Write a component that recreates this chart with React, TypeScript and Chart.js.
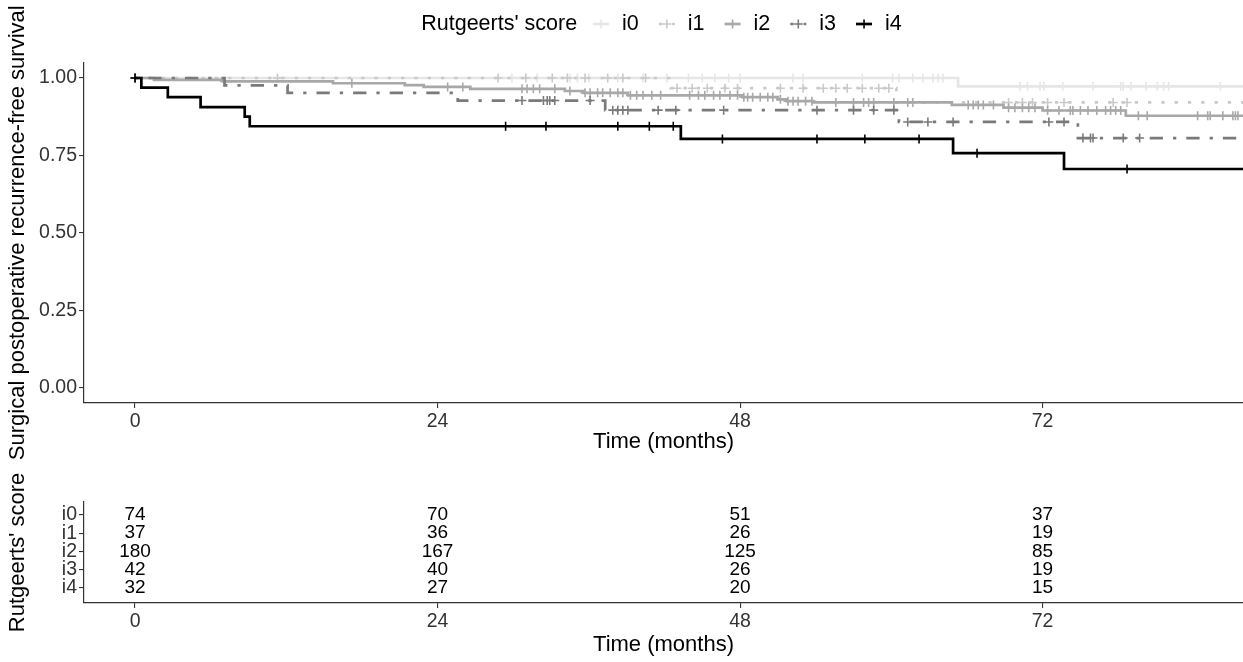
import React, { useEffect, useRef } from "react";
import { Chart, registerables } from "chart.js";
Chart.register(...registerables);

const FONT = "'Liberation Sans', Arial, Helvetica, sans-serif";

const groups = ["i0", "i1", "i2", "i3", "i4"];
const legendTitle = "Rutgeerts' score";
const xTitle = "Time (months)";
const yTitle = "Surgical postoperative recurrence-free survival";
const xTicks = [0, 24, 48, 72];
const yTicks = [0, 0.25, 0.5, 0.75, 1];

// Kaplan-Meier steps (event time in months, survival after event)
const i0EventTimes = [65.3];
const i0EventSurv = [0.973];
const i0Censor = [0, 29.9, 31.9, 34.5, 35.1, 36.0, 38.3, 40.3, 42.2, 43.9, 45.0, 46.0, 47.1, 48.0, 52.2, 53.0, 57.7, 60.1, 60.6, 61.7, 62.5, 63.3, 63.7, 64.1, 70.2, 70.8, 71.8, 72.1, 73.6, 76.0, 78.2, 78.4, 79.0, 80.2, 81.1, 81.6, 82.0, 86.1];

const i1EventTimes = [42.5, 60.4];
const i1EventSurv = [0.967, 0.921];
const i1Censor = [11.3, 28.8, 31.0, 33.1, 34.3, 35.7, 37.5, 38.7, 40.5, 43.0, 44.2, 45.4, 46.8, 47.8, 51.2, 53.0, 54.6, 55.6, 56.5, 57.7, 59.0, 59.8, 69.3, 70.4, 71.2, 72.4, 73.7, 77.6, 78.7];

const i2EventTimes = [1.5, 7.0, 15.7, 21.4, 22.9, 26.6, 34.1, 35.6, 39.1, 48.2, 51.0, 51.7, 53.8, 64.8, 68.9, 72.0, 78.6];
const i2EventSurv = [0.994, 0.989, 0.983, 0.977, 0.971, 0.965, 0.958, 0.952, 0.944, 0.938, 0.931, 0.925, 0.921, 0.913, 0.904, 0.895, 0.878];
const i2Censor = [0, 7.1, 17.2, 24.8, 26.0, 30.7, 31.1, 31.6, 32.1, 33.3, 34.5, 35.7, 36.1, 36.7, 37.1, 37.7, 38.3, 38.7, 39.3, 39.8, 40.3, 41.0, 41.7, 44.0, 44.7, 45.2, 45.9, 46.4, 47.2, 47.8, 48.3, 48.6, 49.0, 49.6, 50.2, 50.6, 51.2, 51.8, 52.2, 52.6, 53.2, 53.7, 55.6, 57.0, 57.8, 58.2, 58.6, 60.2, 61.3, 61.7, 66.1, 66.5, 66.9, 67.3, 68.1, 69.3, 69.8, 70.4, 70.9, 71.4, 72.4, 73.3, 74.2, 74.4, 75.0, 75.6, 76.3, 77.0, 77.4, 77.8, 78.2, 79.6, 80.3, 84.3, 85.1, 85.3, 86.3, 87.1, 87.3, 87.5];

const i3EventTimes = [7.1, 12.1, 25.6, 37.3, 60.6, 74.8];
const i3EventSurv = [0.976, 0.952, 0.927, 0.896, 0.858, 0.806];
const i3Censor = [0, 30.7, 32.4, 32.7, 32.9, 33.3, 36.1, 37.9, 38.3, 38.7, 39.1, 41.5, 42.9, 46.7, 54.1, 57.0, 58.6, 60.2, 61.3, 62.9, 64.9, 72.5, 73.7, 75.2, 75.8, 76.0, 78.4, 79.7];

const i4EventTimes = [0.5, 2.6, 5.2, 8.7, 9.1, 43.3, 64.9, 73.7];
const i4EventSurv = [0.969, 0.938, 0.906, 0.875, 0.844, 0.803, 0.757, 0.706];
const i4Censor = [0, 29.4, 32.6, 38.3, 40.8, 42.7, 46.6, 54.1, 57.9, 62.2, 66.8, 78.7];

const followUpEnd = 90;

// Number at risk table
const riskTimes = [0, 24, 48, 72];
const riskI0 = [74, 70, 51, 37];
const riskI1 = [37, 36, 26, 19];
const riskI2 = [180, 167, 125, 85];
const riskI3 = [42, 40, 26, 19];
const riskI4 = [32, 27, 20, 15];

const colors = ["#E6E6E6", "#C9C9C9", "#A8A8A8", "#7A7A7A", "#000000"];
const dashes: number[][] = [[], [3.3, 10], [], [3.3, 10, 13.3, 10], []];

const eventTimes = [i0EventTimes, i1EventTimes, i2EventTimes, i3EventTimes, i4EventTimes];
const eventSurv = [i0EventSurv, i1EventSurv, i2EventSurv, i3EventSurv, i4EventSurv];
const censors = [i0Censor, i1Censor, i2Censor, i3Censor, i4Censor];
const riskRows = [riskI0, riskI1, riskI2, riskI3, riskI4];

function survAt(times: number[], surv: number[], t: number) {
  let s = 1;
  for (let i = 0; i < times.length; i++) if (times[i] <= t) s = surv[i];
  return s;
}

function stepPoints(times: number[], surv: number[]) {
  const pts = [{ x: 0, y: 1 }];
  times.forEach((t, i) => pts.push({ x: t, y: surv[i] }));
  pts.push({ x: followUpEnd, y: surv.length ? surv[surv.length - 1] : 1 });
  return pts;
}

const LINE_W = 2.7;
const X_MIN = -4.05;
const X_MAX = 87.9;

function drawCross(ctx: CanvasRenderingContext2D, x: number, y: number, r: number, color: string) {
  ctx.save();
  ctx.strokeStyle = color;
  ctx.lineWidth = 1.6;
  ctx.setLineDash([]);
  ctx.beginPath();
  ctx.moveTo(x - r, y);
  ctx.lineTo(x + r, y);
  ctx.moveTo(x, y - r);
  ctx.lineTo(x, y + r);
  ctx.stroke();
  ctx.restore();
}

const legendPlugin = {
  id: "kmLegend",
  afterDraw(chart: any) {
    const ctx: CanvasRenderingContext2D = chart.ctx;
    ctx.save();
    ctx.font = `21.5px ${FONT}`;
    ctx.textBaseline = "middle";
    ctx.fillStyle = "#000";
    const gapTitle = 16, glyphW = 16, gapGlyph = 13, gapItem = 20;
    const titleW = ctx.measureText(legendTitle).width;
    const labelW = groups.map((g) => ctx.measureText(g).width);
    let total = titleW + gapTitle;
    labelW.forEach((w, i) => {
      total += glyphW + gapGlyph + w + (i < groups.length - 1 ? gapItem : 0);
    });
    const cy = 24;
    let x = 661.5 - total / 2;
    ctx.textAlign = "left";
    ctx.fillText(legendTitle, x, cy);
    x += titleW + gapTitle;
    groups.forEach((g, i) => {
      ctx.save();
      ctx.strokeStyle = colors[i];
      ctx.lineWidth = LINE_W;
      ctx.setLineDash(dashes[i]);
      ctx.beginPath();
      ctx.moveTo(x, cy);
      ctx.lineTo(x + glyphW, cy);
      ctx.stroke();
      ctx.restore();
      drawCross(ctx, x + glyphW / 2, cy, 4.5, colors[i]);
      x += glyphW + gapGlyph;
      ctx.fillStyle = "#000";
      ctx.fillText(g, x, cy);
      x += labelW[i] + gapItem;
    });
    ctx.restore();
  },
};

const riskPlugin = {
  id: "riskText",
  afterDatasetsDraw(chart: any) {
    const ctx: CanvasRenderingContext2D = chart.ctx;
    const xs = chart.scales.x;
    const ys = chart.scales.y;
    ctx.save();
    ctx.font = `19px ${FONT}`;
    ctx.textAlign = "center";
    ctx.textBaseline = "middle";
    ctx.fillStyle = "#000";
    riskRows.forEach((row, r) => {
      row.forEach((n, j) => {
        ctx.fillText(String(n), xs.getPixelForValue(riskTimes[j]), ys.getPixelForValue(groups.length - 1 - r));
      });
    });
    ctx.restore();
  },
};

function xAxis(height: number, titleBottom: number) {
  return {
    type: "linear" as const,
    min: X_MIN,
    max: X_MAX,
    afterBuildTicks: (s: any) => {
      s.ticks = xTicks.map((v) => ({ value: v }));
    },
    afterFit: (s: any) => {
      s.height = height;
    },
    grid: { drawOnChartArea: false, drawTicks: true, tickLength: 5, color: "#333", lineWidth: 1.1 },
    border: { display: true, color: "#333", width: 1.2 },
    ticks: { font: { family: FONT, size: 19.5 }, color: "#333", padding: 2, maxRotation: 0, autoSkip: false },
    title: { display: true, text: xTitle, font: { family: FONT, size: 22 }, color: "#000", padding: { top: 0, bottom: titleBottom } },
  };
}

export default function App() {
  const topRef = useRef<HTMLCanvasElement>(null);
  const botRef = useRef<HTMLCanvasElement>(null);

  useEffect(() => {
    const datasets: any[] = [];
    groups.forEach((g, i) => {
      datasets.push({
        type: "line",
        label: g,
        data: stepPoints(eventTimes[i], eventSurv[i]),
        stepped: "before",
        borderColor: colors[i],
        borderWidth: LINE_W,
        borderDash: dashes[i],
        borderCapStyle: "butt",
        pointRadius: 0,
        fill: false,
        order: 10 - 2 * i,
      });
      datasets.push({
        type: "scatter",
        label: g + " censor",
        data: censors[i].map((t) => ({ x: t, y: survAt(eventTimes[i], eventSurv[i], t) })),
        showLine: false,
        pointStyle: "cross",
        pointRadius: 4.5,
        pointBorderWidth: 1.6,
        pointBorderColor: colors[i],
        pointBackgroundColor: colors[i],
        borderColor: colors[i],
        order: 9 - 2 * i,
      });
    });

    const top = new Chart(topRef.current!, {
      type: "line",
      data: { datasets },
      plugins: [legendPlugin],
      options: {
        animation: false,
        responsive: false,
        layout: { autoPadding: false, padding: { top: 62.5, left: 0, right: 0, bottom: 0 } },
        plugins: { legend: { display: false }, tooltip: { enabled: false } },
        scales: {
          x: xAxis(57, 5) as any,
          y: {
            type: "linear",
            min: -0.05,
            max: 1.05,
            afterBuildTicks: (s: any) => {
              s.ticks = yTicks.map((v) => ({ value: v }));
            },
            afterFit: (s: any) => {
              s.width = 84;
            },
            grid: { drawOnChartArea: false, drawTicks: true, tickLength: 5, color: "#333", lineWidth: 1.1 },
            border: { display: true, color: "#333", width: 1.2 },
            ticks: {
              font: { family: FONT, size: 19.5 },
              color: "#333",
              padding: 2,
              autoSkip: false,
              callback: (v: any) => Number(v).toFixed(2),
            },
            title: { display: true, text: yTitle, font: { family: FONT, size: 22 }, color: "#000", padding: { top: 5, bottom: 0 } },
          },
        },
      },
    });

    const bottom = new Chart(botRef.current!, {
      type: "scatter",
      data: { datasets: [{ data: [], pointRadius: 0 }] },
      plugins: [riskPlugin],
      options: {
        animation: false,
        responsive: false,
        layout: { autoPadding: false, padding: { top: 42, left: 0, right: 0, bottom: 0 } },
        plugins: { legend: { display: false }, tooltip: { enabled: false } },
        scales: {
          x: xAxis(59, 4) as any,
          y: {
            type: "linear",
            min: -0.82,
            max: 4.71,
            afterBuildTicks: (s: any) => {
              s.ticks = groups.map((_, i) => ({ value: i }));
            },
            afterFit: (s: any) => {
              s.width = 84;
            },
            grid: { drawOnChartArea: false, drawTicks: true, tickLength: 5, color: "#333", lineWidth: 1.1 },
            border: { display: true, color: "#333", width: 1.2 },
            ticks: {
              font: { family: FONT, size: 19.5 },
              color: "#333",
              padding: 2,
              autoSkip: false,
              callback: (v: any) => groups[groups.length - 1 - Number(v)],
            },
            title: { display: true, text: legendTitle, font: { family: FONT, size: 22 }, color: "#000", padding: { top: 5, bottom: 0 } },
          },
        },
      },
    });

    return () => {
      top.destroy();
      bottom.destroy();
    };
  }, []);

  return (
    <div style={{ position: "absolute", left: 0, top: 0, width: 1243, height: 662, background: "#fff" }}>
      <canvas ref={topRef} width={1243} height={460} style={{ display: "block", width: 1243, height: 460 }} />
      <canvas ref={botRef} width={1243} height={202} style={{ display: "block", width: 1243, height: 202 }} />
    </div>
  );
}
